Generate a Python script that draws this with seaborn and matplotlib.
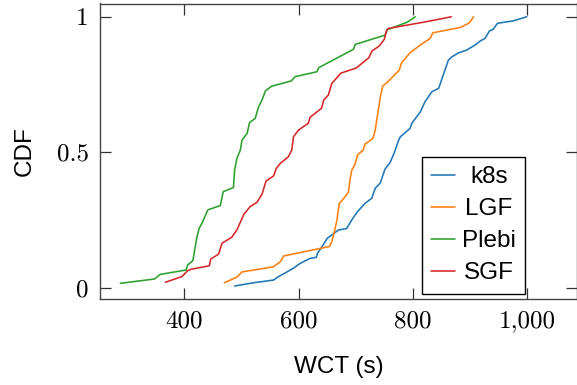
import matplotlib
matplotlib.use("Agg")
import matplotlib.pyplot as plt
import pandas as pd
import seaborn as sns

# Empirical CDF points (wall-clock time in seconds vs. cumulative fraction)
k8s_wct = [488, 521, 556, 565, 577, 591, 603, 620, 631, 633, 641, 650, 655, 670, 684,
           693, 702, 716, 728, 734, 743, 751, 760, 767, 775, 778, 795, 798, 813, 821,
           833, 845, 853, 862, 868, 880, 894, 909, 918, 926, 934, 940, 948, 976, 999]
k8s_cdf = [0.006, 0.018, 0.028, 0.041, 0.055, 0.072, 0.09, 0.108, 0.112, 0.127, 0.151,
           0.182, 0.19, 0.213, 0.218, 0.25, 0.278, 0.311, 0.33, 0.367, 0.387, 0.437,
           0.462, 0.496, 0.545, 0.557, 0.588, 0.607, 0.649, 0.686, 0.723, 0.736, 0.785,
           0.84, 0.852, 0.867, 0.877, 0.896, 0.911, 0.92, 0.948, 0.953, 0.976, 0.985, 1.0]

lgf_wct = [470, 492, 501, 556, 568, 574, 638, 654, 658, 663, 667, 671, 679, 687, 690,
           693, 699, 703, 713, 716, 730, 734, 738, 743, 747, 754, 776, 780, 795, 813,
           830, 835, 884, 899, 906]
lgf_cdf = [0.018, 0.039, 0.058, 0.077, 0.096, 0.117, 0.145, 0.152, 0.17, 0.21, 0.25,
           0.31, 0.33, 0.352, 0.40, 0.434, 0.457, 0.49, 0.508, 0.53, 0.551, 0.582, 0.637,
           0.705, 0.744, 0.756, 0.803, 0.83, 0.867, 0.896, 0.92, 0.941, 0.961, 0.978, 1.0]

plebi_wct = [288, 348, 358, 403, 406, 415, 419, 422, 426, 431, 441, 463, 468, 486, 488,
             492, 498, 501, 510, 514, 524, 530, 536, 542, 553, 587, 594, 632, 635, 653,
             696, 699, 751, 755, 790, 804]
plebi_cdf = [0.016, 0.032, 0.049, 0.065, 0.084, 0.10, 0.15, 0.186, 0.219, 0.238, 0.287,
             0.303, 0.354, 0.37, 0.434, 0.477, 0.508, 0.545, 0.57, 0.609, 0.625, 0.668,
             0.693, 0.727, 0.744, 0.763, 0.779, 0.797, 0.812, 0.832, 0.88, 0.898, 0.932,
             0.952, 0.98, 1.0]

sgf_wct = [367, 396, 406, 412, 444, 446, 460, 466, 483, 492, 504, 515, 527, 536, 543,
           556, 561, 568, 582, 588, 591, 600, 617, 620, 640, 644, 652, 658, 674, 701,
           723, 728, 741, 750, 754, 757, 824, 867]
sgf_cdf = [0.02, 0.041, 0.063, 0.068, 0.081, 0.105, 0.124, 0.164, 0.186, 0.213, 0.27,
           0.299, 0.315, 0.345, 0.394, 0.412, 0.44, 0.459, 0.483, 0.508, 0.557, 0.582,
           0.607, 0.629, 0.662, 0.693, 0.711, 0.754, 0.792, 0.811, 0.849, 0.873, 0.892,
           0.917, 0.951, 0.957, 0.982, 1.0]

systems = ["k8s", "LGF", "Plebi", "SGF"]
colors = ["#1f77b4", "#ff7f0e", "#2ca02c", "#d62728"]

x_ticks = [400, 600, 800, 1000]
x_tick_labels = ["400", "600", "800", "1,000"]
y_ticks = [0, 0.5, 1]
y_tick_labels = ["0", "0.5", "1"]

frames = []
for name, xs, ys in zip(systems,
                        [k8s_wct, lgf_wct, plebi_wct, sgf_wct],
                        [k8s_cdf, lgf_cdf, plebi_cdf, sgf_cdf]):
    frames.append(pd.DataFrame({"WCT (s)": xs, "CDF": ys, "system": name}))
df = pd.concat(frames, ignore_index=True)

sns.set_theme(style="ticks", rc={"text.color": "black", "axes.labelcolor": "black",
                                 "xtick.color": "black", "ytick.color": "black"})
plt.rcParams["font.family"] = ["Liberation Sans", "DejaVu Sans"]

fig = plt.figure(figsize=(5.77, 3.85), dpi=100)
ax = fig.add_axes([100 / 577, 85.7 / 385, 477 / 577, 295.8 / 385])

sns.lineplot(data=df, x="WCT (s)", y="CDF", hue="system", hue_order=systems,
             palette=colors, estimator=None, sort=False, linewidth=1.15, ax=ax)

ax.set_xlim(252.5, 1087)
ax.set_ylim(-0.043, 1.049)

ax.set_xticks(x_ticks)
ax.set_xticklabels(x_tick_labels, fontfamily="cmr10", fontsize=18)
ax.set_yticks(y_ticks)
ax.set_yticklabels(y_tick_labels, fontfamily="cmr10", fontsize=18)
ax.tick_params(axis="both", which="major", direction="in", length=8, width=0.9,
               color="#333333", top=True, right=True, labelcolor="black")
ax.tick_params(axis="x", pad=8)
ax.tick_params(axis="y", pad=8)

for side in ["left", "right", "top", "bottom"]:
    ax.spines[side].set_visible(True)
    ax.spines[side].set_color("#444444")
    ax.spines[side].set_linewidth(1.0)

ax.set_xlabel("WCT (s)", fontsize=17.5, labelpad=17, color="black")
ax.set_ylabel("CDF", fontsize=17.5, labelpad=15, color="black")

handles, labels = ax.get_legend_handles_labels()
if ax.get_legend() is not None:
    ax.get_legend().remove()
leg = ax.legend(handles, labels, loc="upper left", bbox_to_anchor=(0.6744, 0.482),
                borderaxespad=0, frameon=True, fancybox=False, edgecolor="black",
                facecolor="white", framealpha=1, fontsize=17.5, handlelength=0.95,
                handletextpad=0.3, labelspacing=0.41, borderpad=0.4)
leg.get_frame().set_linewidth(1.0)
for h in leg.get_lines():
    h.set_linewidth(1.15)
for t in leg.get_texts():
    t.set_color("black")

# centre the legend labels within their column
fig.canvas.draw()
renderer = fig.canvas.get_renderer()
texts = leg.get_texts()
widths = [t.get_window_extent(renderer).width for t in texts]
wmax = max(widths)
for t, w in zip(texts, widths):
    t.set_x((wmax - w) / 2)

fig.savefig("out.png", dpi=100)
